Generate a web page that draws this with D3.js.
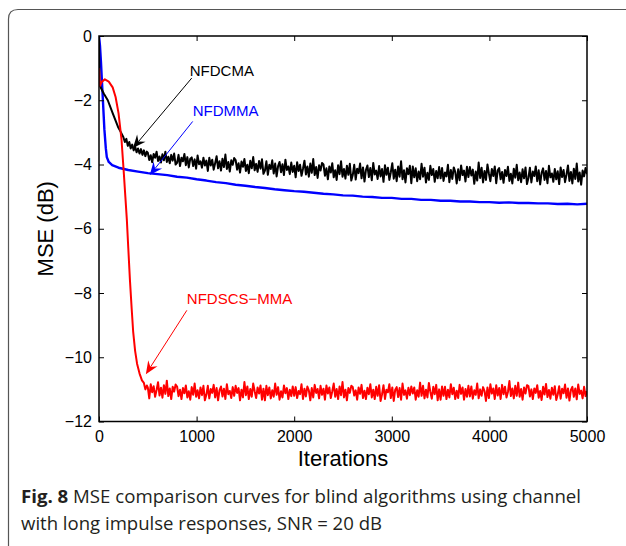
<!DOCTYPE html>
<html>
<head>
<meta charset="utf-8">
<script src="https://cdn.jsdelivr.net/npm/d3@7"></script>
<style>
  body { margin: 0; background: #fff; }
  svg { display: block; }
</style>
</head>
<body>
<svg id="chart" width="626" height="546"></svg>
<script>
// axis ticks
const xTicks = [0, 1000, 2000, 3000, 4000, 5000];
const yTicks = [0, -2, -4, -6, -8, -10, -12];

// shared iteration grid for the noisy tails (every 15 iterations, 500..5000)
const tailIters = d3.range(500, 5001, 15);

// NFDCMA (black)
const blackHeadIters = [0, 5, 20, 50, 90, 140, 195, 225, 250, 265, 280, 295, 310, 325, 340, 355, 370, 385, 400, 415, 430, 445, 460, 475, 490];
const blackHead = [0, -1.5, -1.62, -1.8, -2.0, -2.4, -2.83, -3.0, -3.15, -3.3, -3.2, -3.42, -3.3, -3.5, -3.38, -3.56, -3.44, -3.62, -3.5, -3.66, -3.52, -3.7, -3.56, -3.74, -3.6];
const blackTail = [
  -3.63,-3.86,-3.71,-3.93,-3.67,-3.79,-3.6,-3.89,-3.75,-3.94,-3.68,-3.87,-3.6,-3.92,-3.76,-3.96,-3.7,-3.88,-3.66,-4.0,
  -3.95,-3.7,-4.05,-3.79,-3.9,-3.67,-4.02,-3.77,-4.09,-3.82,-3.78,-4.05,-3.84,-4.13,-3.72,-3.99,-3.9,-4.1,-3.79,-4.03,
  -3.88,-4.2,-3.79,-4.03,-3.85,-4.16,-3.96,-3.74,-4.12,-3.9,-4.19,-3.82,-4.08,-3.69,-4.14,-3.92,-4.22,-3.87,-4.01,-3.8,
  -3.86,-4.16,-3.96,-4.25,-3.91,-4.07,-3.83,-4.2,-4.01,-4.27,-3.88,-4.12,-3.77,-4.18,-3.98,-4.23,-3.89,-4.13,-3.84,-4.29,
  -4.19,-3.9,-4.32,-4.01,-4.14,-3.87,-4.28,-3.97,-4.37,-4.05,-3.92,-4.24,-3.99,-4.33,-3.85,-4.17,-4.06,-4.3,-3.94,-4.23,
  -4.04,-4.4,-3.93,-4.2,-4.01,-4.35,-4.13,-3.88,-4.31,-4.06,-4.38,-3.97,-4.26,-3.83,-4.33,-4.08,-4.42,-4.02,-4.19,-3.95,
  -4.0,-4.35,-4.12,-4.46,-4.06,-4.25,-3.96,-4.4,-4.18,-4.48,-4.02,-4.3,-3.9,-4.38,-4.14,-4.44,-4.04,-4.32,-3.98,-4.5,
  -4.33,-4.01,-4.47,-4.13,-4.27,-3.97,-4.43,-4.09,-4.53,-4.17,-4.03,-4.39,-4.11,-4.49,-3.95,-4.31,-4.19,-4.45,-4.05,-4.37,
  -4.14,-4.54,-4.02,-4.32,-4.1,-4.48,-4.24,-3.96,-4.44,-4.16,-4.52,-4.06,-4.38,-3.9,-4.46,-4.18,-4.56,-4.12,-4.3,-4.04,
  -4.58,-4.06,-4.4,-4.12,-4.52,-4.22,-4.46,-3.98,-4.38,-4.1,-4.56,-4.26,-4.48,-4.04,-4.33,-4.14,-4.54,-4.2,-4.43,-4.08,
  -4.43,-4.11,-4.51,-4.25,-4.37,-4.01,-4.55,-4.17,-4.45,-4.09,-4.23,-4.59,-4.15,-4.49,-4.03,-4.33,-4.19,-4.53,-4.07,-4.39,
  -4.08,-4.34,-4.16,-4.6,-4.22,-4.5,-3.94,-4.42,-4.1,-4.56,-4.2,-4.48,-4.0,-4.28,-4.52,-4.14,-4.36,-4.06,-4.58,-4.18,
  -4.11,-4.46,-4.23,-4.57,-4.17,-4.36,-4.07,-4.51,-4.29,-4.59,-4.13,-4.41,-4.01,-4.49,-4.25,-4.55,-4.15,-4.43,-4.09,-4.61,
  -4.42,-4.1,-4.56,-4.22,-4.36,-4.06,-4.52,-4.18,-4.62,-4.26,-4.12,-4.48,-4.2,-4.58,-4.04,-4.4,-4.28,-4.54,-4.14,-4.46,
  -4.21,-4.61,-4.09,-4.39,-4.17,-4.55,-4.31,-4.03,-4.51,-4.23,-4.59,-4.13,-4.45,-3.97,-4.53,-4.25,-4.63,-4.19,-4.37,-4.11,
  -4.3
];

// NFDMMA (blue)
const blueHeadIters = [0, 10, 20, 30, 40, 55, 70, 80, 100, 135, 200, 300, 400, 500];
const blueHead = [0, -0.3, -0.8, -1.4, -2.0, -2.9, -3.5, -3.77, -3.92, -4.02, -4.1, -4.17, -4.22, -4.27];
const blueTailIters = d3.range(600, 5001, 100);
const blueTail = [
  -4.3,-4.33,-4.38,-4.41,-4.46,-4.5,-4.55,-4.58,-4.63,-4.66,-4.7,-4.73,-4.77,-4.8,-4.83,
  -4.85,-4.88,-4.91,-4.93,-4.96,-4.97,-5.0,-5.01,-5.04,-5.04,-5.07,-5.07,-5.1,-5.1,-5.13,
  -5.13,-5.15,-5.15,-5.17,-5.17,-5.19,-5.18,-5.2,-5.2,-5.21,-5.21,-5.23,-5.22,-5.24,-5.22
];

// NFDSCS-MMA (red)
const redHeadIters = [0, 10, 30, 60, 100, 140, 170, 200, 230, 255, 270, 285, 300, 317, 335, 350, 370, 390, 415, 440, 460, 475, 490];
const redHead = [-1.0, -1.55, -1.42, -1.35, -1.42, -1.6, -1.9, -2.4, -3.2, -4.3, -5.0, -5.7, -6.6, -7.6, -8.5, -9.2, -9.8, -10.2, -10.5, -10.72, -10.8, -11.0, -10.88];
const redTail = [
  -10.94,-11.28,-10.84,-11.09,-10.9,-11.23,-11.02,-10.78,-11.19,-10.95,-11.26,-10.87,-11.14,-10.73,-11.21,-10.97,-11.3,-10.92,-11.07,-10.85,
  -10.91,-11.21,-11.01,-11.3,-10.96,-11.12,-10.88,-11.25,-11.06,-11.32,-10.93,-11.17,-10.82,-11.23,-11.03,-11.28,-10.94,-11.18,-10.89,-11.34,
  -11.17,-10.89,-11.28,-10.99,-11.11,-10.86,-11.25,-10.96,-11.34,-11.03,-10.91,-11.22,-10.98,-11.3,-10.84,-11.15,-11.05,-11.27,-10.93,-11.2,
  -10.89,-11.11,-10.96,-11.34,-11.01,-11.25,-10.77,-11.18,-10.91,-11.3,-10.99,-11.23,-10.82,-11.06,-11.27,-10.94,-11.13,-10.88,-11.32,-10.98,
  -11.34,-10.89,-11.18,-10.94,-11.28,-11.03,-11.23,-10.82,-11.17,-10.93,-11.32,-11.06,-11.25,-10.88,-11.12,-10.96,-11.3,-11.01,-11.21,-10.91,
  -11.2,-10.93,-11.27,-11.05,-11.15,-10.84,-11.3,-10.98,-11.22,-10.91,-11.03,-11.34,-10.96,-11.25,-10.86,-11.11,-10.99,-11.28,-10.89,-11.17,
  -10.98,-11.32,-10.88,-11.13,-10.94,-11.27,-11.06,-10.82,-11.23,-10.99,-11.3,-10.91,-11.18,-10.77,-11.25,-11.01,-11.34,-10.96,-11.11,-10.89,
  -10.93,-11.19,-11.03,-11.32,-10.94,-11.14,-10.86,-11.27,-11.04,-11.3,-10.95,-11.15,-10.84,-11.25,-11.01,-11.3,-10.92,-11.2,-10.87,-11.36,
  -11.15,-10.87,-11.3,-11.01,-11.09,-10.84,-11.27,-10.94,-11.36,-11.01,-10.93,-11.24,-10.96,-11.32,-10.82,-11.17,-11.03,-11.29,-10.95,-11.18,
  -10.91,-11.13,-10.94,-11.32,-11.03,-11.23,-10.79,-11.2,-10.89,-11.28,-11.01,-11.25,-10.8,-11.08,-11.29,-10.92,-11.15,-10.86,-11.34,-11.0,
  -11.32,-10.91,-11.2,-10.92,-11.3,-11.01,-11.25,-10.84,-11.15,-10.95,-11.3,-11.04,-11.27,-10.86,-11.14,-10.94,-11.32,-10.99,-11.23,-10.89,
  -11.22,-10.91,-11.29,-11.03,-11.17,-10.82,-11.28,-11.0,-11.2,-10.93,-11.05,-11.36,-10.94,-11.27,-10.84,-11.13,-10.97,-11.3,-10.87,-11.19,
  -10.96,-11.3,-10.86,-11.15,-10.92,-11.25,-11.08,-10.74,-11.21,-10.97,-11.28,-10.89,-11.2,-10.79,-11.23,-10.99,-11.32,-10.94,-11.13,-10.87,
  -10.9,-11.22,-11.0,-11.3,-10.97,-11.11,-10.87,-11.26,-11.05,-11.33,-10.92,-11.16,-10.83,-11.24,-11.02,-11.29,-10.95,-11.17,-10.9,-11.33,
  -11.16,-10.9,-11.29,-10.98,-11.12,-10.85,-11.26,-10.97,-11.35,-11.02,-10.92,-11.23,-10.97,-11.31,-10.85,-11.14,-11.04,-11.28,-10.92,-11.21,
  -11.05
];

// annotations: label position, arrow start, arrow tip (in data units)
const notes = [
  { name: "NFDCMA", color: "#000", text: [930, -1.25], from: [950, -1.31], tip: [348, -3.49] },
  { name: "NFDMMA", color: "#0000ff", text: [960, -2.49], from: [960, -2.66], tip: [520, -4.33] },
  { name: "NFDSCS\u2212MMA", color: "#ff0000", text: [900, -8.35], from: [900, -8.54], tip: [480, -10.53] }
];

const svg = d3.select("#chart");
const font = "'Liberation Sans', Arial, Helvetica, sans-serif";

// card frame with rounded top-left corner
svg.append("path")
  .attr("d", "M8.5,546 V19 Q8.5,9.5 18,9.5 H626")
  .attr("fill", "none")
  .attr("stroke", "#555")
  .attr("stroke-width", 1.2);

const x = d3.scaleLinear().domain([0, 5000]).range([99, 587]);
const y = d3.scaleLinear().domain([-12, 0]).range([421.5, 36]);

const zip = (a, b) => a.map((v, i) => [v, b[i]]);
const series = [
  { color: "#0000ff", width: 2.4, pts: zip(blueHeadIters, blueHead).concat(zip(blueTailIters, blueTail)) },
  { color: "#000000", width: 2.0, pts: zip(blackHeadIters, blackHead).concat(zip(tailIters, blackTail)) },
  { color: "#ff0000", width: 2.0, pts: zip(redHeadIters, redHead).concat(zip(tailIters, redTail)) }
];

svg.append("clipPath").attr("id", "plotclip")
  .append("rect").attr("x", 99).attr("y", 36).attr("width", 488).attr("height", 385.5);

const line = d3.line().x(d => x(d[0])).y(d => y(d[1]));
svg.append("g").attr("clip-path", "url(#plotclip)")
  .selectAll("path")
  .data(series)
  .enter().append("path")
  .attr("d", d => line(d.pts))
  .attr("fill", "none")
  .attr("stroke", d => d.color)
  .attr("stroke-width", d => d.width)
  .attr("stroke-linejoin", "round");

// axes, ticks pointing inward
const minus = v => String(v).replace("-", "\u2212");
const axBottom = svg.append("g").attr("transform", "translate(0,421.5)")
  .call(d3.axisBottom(x).tickValues(xTicks).tickSize(-5).tickSizeOuter(0).tickPadding(9).tickFormat(d => d));
const axTop = svg.append("g").attr("transform", "translate(0,36)")
  .call(d3.axisTop(x).tickValues(xTicks).tickSize(-5).tickSizeOuter(0).tickFormat(""));
const axLeft = svg.append("g").attr("transform", "translate(99,0)")
  .call(d3.axisLeft(y).tickValues(yTicks).tickSize(-5).tickSizeOuter(0).tickPadding(7).tickFormat(minus));
const axRight = svg.append("g").attr("transform", "translate(587,0)")
  .call(d3.axisRight(y).tickValues(yTicks).tickSize(-5).tickSizeOuter(0).tickFormat(""));

[axBottom, axTop, axLeft, axRight].forEach(g => {
  g.select(".domain").remove();
  g.selectAll("line").attr("stroke", "#000").attr("stroke-width", 1);
  g.selectAll("text").attr("fill", "#000").style("font-family", font).style("font-size", "16px");
});

svg.append("rect")
  .attr("x", 99).attr("y", 36).attr("width", 488).attr("height", 385.5)
  .attr("fill", "none").attr("stroke", "#000").attr("stroke-width", 1.5);

// axis titles
svg.append("text")
  .attr("x", x(2500)).attr("y", 466)
  .attr("text-anchor", "middle")
  .style("font-family", font).style("font-size", "22px")
  .text("Iterations");

svg.append("text")
  .attr("transform", "translate(53," + y(-6) + ") rotate(-90)")
  .attr("text-anchor", "middle")
  .style("font-family", font).style("font-size", "22px")
  .text("MSE (dB)");

// annotations with arrows
notes.forEach(n => {
  const x0 = x(n.from[0]), y0 = y(n.from[1]);
  const x1 = x(n.tip[0]), y1 = y(n.tip[1]);
  const ang = Math.atan2(y1 - y0, x1 - x0);
  const len = 13, half = 5.5, notch = 8.5;
  const bx = x1 - len * Math.cos(ang), by = y1 - len * Math.sin(ang);
  const nx = x1 - notch * Math.cos(ang), ny = y1 - notch * Math.sin(ang);
  const px = -Math.sin(ang) * half, py = Math.cos(ang) * half;

  svg.append("line")
    .attr("x1", x0).attr("y1", y0).attr("x2", nx).attr("y2", ny)
    .attr("stroke", n.color).attr("stroke-width", 1);
  svg.append("path")
    .attr("d", "M" + x1 + "," + y1 + "L" + (bx + px) + "," + (by + py) + "L" + nx + "," + ny + "L" + (bx - px) + "," + (by - py) + "Z")
    .attr("fill", n.color);
  svg.append("text")
    .attr("x", x(n.text[0])).attr("y", y(n.text[1]))
    .attr("fill", n.color)
    .style("font-family", font).style("font-size", "15px")
    .text(n.name);
});

// caption
const capFont = "'Open Sans', 'Noto Sans', sans-serif";
const cap = svg.append("text")
  .attr("x", 21).attr("y", 503)
  .attr("fill", "#231f20")
  .attr("textLength", 560)
  .attr("lengthAdjust", "spacingAndGlyphs")
  .style("font-family", capFont)
  .style("font-size", "18.5px");
cap.append("tspan").style("font-weight", "bold").text("Fig. 8");
cap.append("tspan").text(" MSE comparison curves for blind algorithms using channel");
svg.append("text")
  .attr("x", 21).attr("y", 530)
  .attr("fill", "#231f20")
  .attr("textLength", 361)
  .attr("lengthAdjust", "spacingAndGlyphs")
  .style("font-family", capFont)
  .style("font-size", "18.5px")
  .text("with long impulse responses, SNR = 20 dB");
</script>
</body>
</html>
